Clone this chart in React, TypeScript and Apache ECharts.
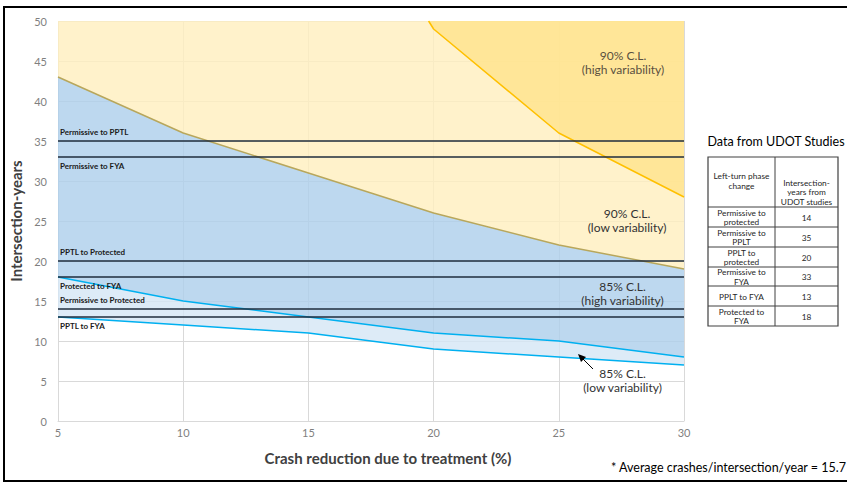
import React, { useEffect, useRef } from "react";
import * as echarts from "echarts";

// ---- data ----
const xCategories = ["5", "10", "15", "20", "25", "30"];
const lowVar85 = [13, 12, 11, 9, 8, 7];
const highVar85 = [18, 15, 13, 11, 10, 8];
const lowVar90 = [43, 36, 31, 26, 22, 19];
const highVar90X = [19.8, 20, 25, 30];
const highVar90 = [50, 49, 36, 28];

const hLineValues = [35, 33, 20, 18, 14, 13];
const hLineLabels = [
  "Permissive to PPTL",
  "Permissive to FYA",
  "PPTL to Protected",
  "Protected to FYA",
  "Permissive to Protected",
  "PPTL to FYA",
];
const hLineLabelSide = ["above", "below", "above", "below", "above", "below"];

const tableHeader = ["Left-turn phase\nchange", "Intersection-\nyears from\nUDOT studies"];
const tablePhaseChange = [
  "Permissive to\nprotected",
  "Permissive to\nPPLT",
  "PPLT to\nprotected",
  "Permissive to\nFYA",
  "PPLT to FYA",
  "Protected to\nFYA",
];
const tableYears = [14, 35, 20, 33, 13, 18];

const FONT = "Lato, 'Open Sans', sans-serif";

export default function App() {
  const ref = useRef<HTMLDivElement>(null);
  useEffect(() => {
    if (!ref.current) return;
    const chart = echarts.init(ref.current, null, { renderer: "svg" });

    const diffLB = highVar85.map((v, i) => v - lowVar85[i]);
    const diffB = lowVar90.map((v, i) => v - highVar85[i]);

    // table graphics
    const tL = 708, tM = 775, tR = 838, tTop = 157;
    const rowEdges = [207, 227, 247, 267, 286, 306, 326];
    const tableEls: any[] = [];
    tableEls.push({
      type: "rect",
      z: 100,
      shape: { x: tL, y: tTop, width: tR - tL, height: rowEdges[6] - tTop },
      style: { fill: "#fff", stroke: "#404040", lineWidth: 1.2 },
    });
    tableEls.push({ type: "line", z: 101, shape: { x1: tM, y1: tTop, x2: tM, y2: rowEdges[6] }, style: { stroke: "#404040", lineWidth: 1 } });
    rowEdges.slice(0, 6).forEach((y) =>
      tableEls.push({ type: "line", z: 101, shape: { x1: tL, y1: y, x2: tR, y2: y }, style: { stroke: "#404040", lineWidth: 1 } })
    );
    const tstyle = (text: string, x: number, y: number) => ({
      type: "text",
      z: 102,
      style: { text, x, y, align: "center", verticalAlign: "middle", fontSize: 8.3, lineHeight: 9.5, fontFamily: FONT, fill: "#262626" },
    });
    tableEls.push(tstyle(tableHeader[0], (tL + tM) / 2, 181));
    tableEls.push(tstyle(tableHeader[1], (tM + tR) / 2, 192));
    tablePhaseChange.forEach((t, i) => {
      const cy = (rowEdges[i] + rowEdges[i + 1]) / 2 + 0.5;
      tableEls.push(tstyle(t, (tL + tM) / 2, cy));
      tableEls.push(tstyle(String(tableYears[i]), (tM + tR) / 2, cy));
    });

    const annot = (text: string, x: number, y: number, color = "#333") => ({
      type: "text",
      z: 100,
      style: { text, x, y, align: "center", verticalAlign: "middle", fontSize: 12, lineHeight: 14, fontFamily: FONT, fill: color },
    });

    chart.setOption({
      animation: false,
      grid: { left: 58, right: 163, top: 21, bottom: 62 },
      xAxis: [
        {
          type: "category",
          data: xCategories,
          boundaryGap: false,
          name: "Crash reduction due to treatment (%)",
          nameLocation: "middle",
          nameGap: 29,
          nameTextStyle: { fontSize: 15, fontWeight: "bold", color: "#404040", fontFamily: FONT, padding: [0, 0, 0, 34] },
          axisLine: { show: true, lineStyle: { color: "#D9D9D9" } },
          axisTick: { show: false },
          axisLabel: { color: "#7F7F7F", fontSize: 11, fontFamily: FONT, margin: 6, interval: 0 },
          splitLine: { show: true, interval: 0, lineStyle: { color: "#D9D9D9" } },
        },
        {
          type: "value",
          min: 5,
          max: 30,
          interval: 5,
          show: false,
        },
      ],
      yAxis: {
        type: "value",
        min: 0,
        max: 50,
        interval: 5,
        name: "Intersection-years",
        nameLocation: "middle",
        nameGap: 34,
        nameTextStyle: { fontSize: 15, fontWeight: "bold", color: "#404040", fontFamily: FONT },
        axisLine: { show: false },
        axisTick: { show: false },
        axisLabel: { color: "#7F7F7F", fontSize: 11, fontFamily: FONT, margin: 11 },
        splitLine: { show: true, lineStyle: { color: "#D9D9D9" } },
      },
      series: [
        {
          name: "90% low fill",
          type: "line",
          data: lowVar90,
          symbol: "none",
          lineStyle: { width: 0 },
          areaStyle: { origin: "end", color: "rgba(255,239,191,0.82)", opacity: 1 },
          z: 1,
        },
        {
          name: "90% C.L. (high variability)",
          type: "line",
          xAxisIndex: 1,
          data: highVar90X.map((x, i) => [x, highVar90[i]]),
          symbol: "none",
          lineStyle: { color: "#FFC000", width: 1.5 },
          areaStyle: { origin: "end", color: "rgba(255,227,140,0.82)", opacity: 1 },
          z: 2,
        },
        {
          name: "85% C.L. (low variability)",
          type: "line",
          stack: "b",
          data: lowVar85,
          symbol: "none",
          lineStyle: { color: "#00B0F0", width: 1.5 },
          z: 3,
          markLine: {
            silent: true,
            symbol: "none",
            lineStyle: { color: "#1F2D3D", width: 1.6, type: "solid" },
            data: hLineValues.map((v, i) => ({
              yAxis: v,
              label: {
                show: true,
                formatter: hLineLabels[i],
                position: hLineLabelSide[i] === "above" ? "insideStartTop" : "insideStartBottom",
                fontSize: 8,
                fontWeight: "bold",
                color: "#1a1a1a",
                fontFamily: FONT,
                distance: [2, 5],
              },
            })),
          },
        },
        {
          name: "85% C.L. (high variability)",
          type: "line",
          stack: "b",
          data: diffLB,
          symbol: "none",
          lineStyle: { color: "#00B0F0", width: 1.5 },
          areaStyle: { color: "rgba(213,230,245,0.82)", opacity: 1 },
          z: 3,
        },
        {
          name: "90% C.L. (low variability)",
          type: "line",
          stack: "b",
          data: diffB,
          symbol: "none",
          lineStyle: { color: "#B8A75C", width: 1.5 },
          areaStyle: { color: "rgba(175,207,235,0.82)", opacity: 1 },
          z: 3,
        },
      ],
      graphic: [
        {
          type: "polyline",
          z: 100,
          shape: { points: [[847, 7], [4, 7], [4, 481], [847, 481]] },
          style: { stroke: "#000", lineWidth: 2, fill: null },
          silent: true,
        },
        annot("90% C.L.\n(high variability)", 623, 62.5, "#5a5040"),
        annot("90% C.L.\n(low variability)", 627, 220),
        annot("85% C.L.\n(high variability)", 622.5, 293),
        annot("85% C.L.\n(low variability)", 622.5, 380),
        { type: "line", z: 100, shape: { x1: 593, y1: 369, x2: 581, y2: 357 }, style: { stroke: "#000", lineWidth: 1 } },
        { type: "polygon", z: 100, shape: { points: [[578, 354], [586, 357], [581, 362]] }, style: { fill: "#000" } },
        {
          type: "text",
          z: 100,
          style: { text: "Data from UDOT Studies", x: 776, y: 141, align: "center", verticalAlign: "middle", fontSize: 12.5, fontFamily: FONT, fill: "#000" },
        },
        ...tableEls,
        {
          type: "text",
          z: 100,
          style: { text: "* Average crashes/intersection/year = 15.7", x: 846, y: 467, align: "right", verticalAlign: "middle", fontSize: 12.5, fontFamily: FONT, fill: "#000" },
        },
      ],
    });
    return () => chart.dispose();
  }, []);
  return <div ref={ref} style={{ position: "fixed", left: 0, top: 0, width: 847, height: 483, background: "#fff" }} />;
}
